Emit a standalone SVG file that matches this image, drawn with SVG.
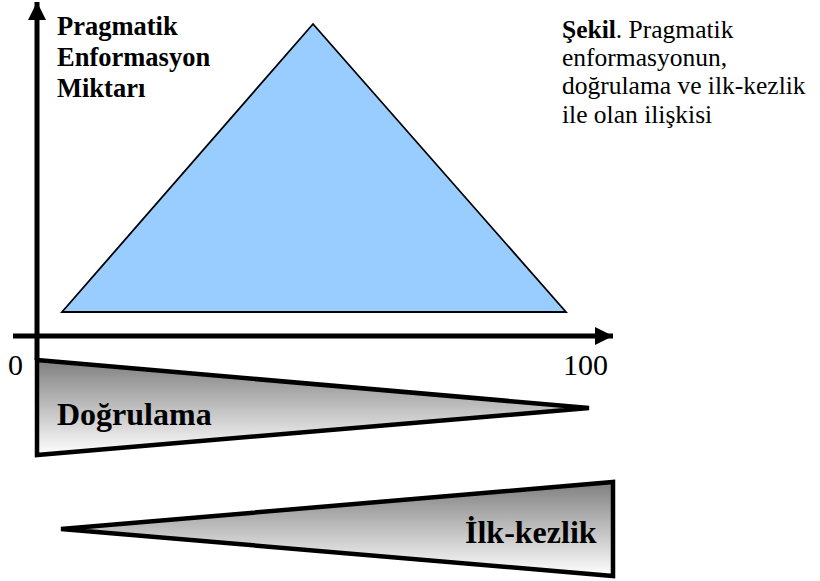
<svg xmlns="http://www.w3.org/2000/svg" width="820" height="581" viewBox="0 0 820 581">
<defs>
<linearGradient id="grayV" x1="0" y1="0" x2="0" y2="1">
<stop offset="0" stop-color="#7f7f7f"/>
<stop offset="1" stop-color="#ffffff"/>
</linearGradient>
<marker id="arrow" viewBox="0 0 10 10" refX="10" refY="5" markerWidth="3.6" markerHeight="3.7" markerUnits="strokeWidth" orient="auto">
<path d="M0,0 L10,5 L0,10 Z" fill="#000"/>
</marker>
</defs>
<style>
.serif{font-family:"Liberation Serif","Times New Roman",serif;fill:#000}
.lbl{font-weight:bold;font-size:26.5px}
.big{font-weight:bold;font-size:32px}
.num{font-size:30px}
.cap{font-size:25.5px}
.wedge{fill:url(#grayV);stroke:#000;stroke-width:4.5;stroke-linejoin:miter}
</style>
<g id="axes">
<line x1="37" y1="360" x2="37" y2="2" stroke="#000" stroke-width="5" marker-end="url(#arrow)"/>
<line x1="13" y1="336" x2="613" y2="336" stroke="#000" stroke-width="5" marker-end="url(#arrow)"/>
</g>
<g id="triangle">
<polygon points="313,24 566,312 62,312" fill="#99ccff" stroke="#000" stroke-width="1.8" stroke-linejoin="miter"/>
</g>
<g id="y-label">
<text class="serif lbl" x="57" y="35">Pragmatik</text>
<text class="serif lbl" x="57" y="66">Enformasyon</text>
<text class="serif lbl" x="57" y="97">Miktarı</text>
</g>
<g id="tick-0"><text class="serif num" x="8" y="375">0</text></g>
<g id="tick-100"><text class="serif num" x="563" y="375">100</text></g>
<g id="dogrulama">
<polygon class="wedge" points="37,360 589,408 37,455"/>
<text class="serif big" x="57" y="425">Doğrulama</text>
</g>
<g id="ilk-kezlik">
<polygon class="wedge" points="61,529 613,482 613,576"/>
<text class="serif big" x="465" y="543">İlk-kezlik</text>
</g>
<g id="caption">
<text class="serif cap" x="562" y="37.5"><tspan font-weight="bold">Şekil</tspan>. Pragmatik</text>
<text class="serif cap" x="562" y="66">enformasyonun,</text>
<text class="serif cap" x="562" y="94">doğrulama ve ilk-kezlik</text>
<text class="serif cap" x="562" y="122.5">ile olan ilişkisi</text>
</g>
</svg>
